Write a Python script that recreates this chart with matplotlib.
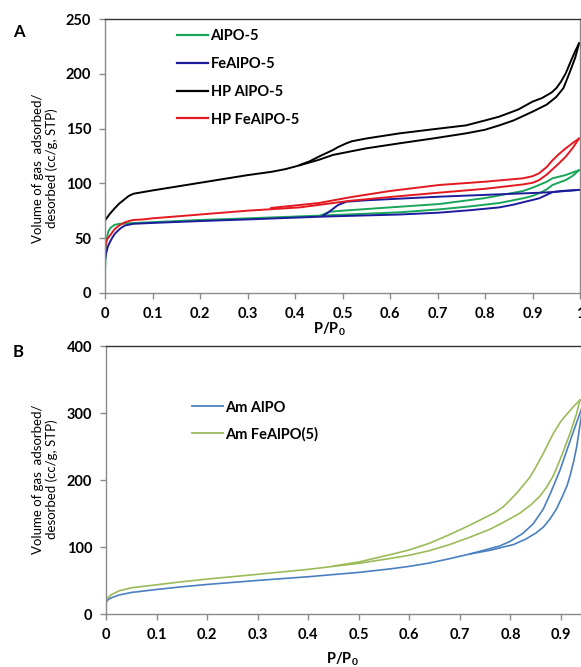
import matplotlib
matplotlib.use("Agg")
import matplotlib.pyplot as plt
from matplotlib.lines import Line2D

plt.rcParams['font.family'] = ['Lato', 'DejaVu Sans']
plt.rcParams['mathtext.fontset'] = 'custom'
plt.rcParams['mathtext.rm'] = 'Lato'
plt.rcParams['mathtext.bf'] = 'Lato:bold'

# ---------------- Panel A data (P/P0, volume cc/g STP) ----------------
alpo5_ads_x = [0, 0.002, 0.004, 0.007, 0.012, 0.02, 0.03, 0.05, 0.1, 0.2, 0.3, 0.41, 0.46, 0.62, 0.704,
               0.77, 0.83, 0.88, 0.9, 0.914, 0.93, 0.942, 0.97, 0.985, 0.998]
alpo5_ads_y = [20, 40, 50, 56, 59.5, 62, 63, 63.5, 64.5, 66.5, 68, 69.8, 70.6, 73.5, 76.2,
               79, 82, 86.3, 88.5, 90.9, 94.5, 98.5, 103, 107, 112]
alpo5_des_x = [0.998, 0.985, 0.97, 0.955, 0.942, 0.93, 0.914, 0.9, 0.88, 0.8, 0.704, 0.6, 0.5, 0.473, 0.455]
alpo5_des_y = [112, 110, 107.6, 106, 104.6, 101.5, 98.5, 96, 93, 86.5, 81.1, 78, 75, 74, 70.8]

fealpo5_ads_x = [0, 0.003, 0.006, 0.01, 0.015, 0.02, 0.025, 0.033, 0.042, 0.06, 0.1, 0.2, 0.3, 0.41,
                 0.459, 0.62, 0.704, 0.77, 0.83, 0.86, 0.88, 0.9, 0.914, 0.93, 0.942, 0.96, 0.998]
fealpo5_ads_y = [30, 37, 42, 46, 50, 53.5, 55.8, 59, 61.5, 63, 63.8, 65.5, 67, 68.8,
                 69.6, 71.5, 73.2, 75.5, 78, 80.5, 82.7, 84.8, 86.3, 89.5, 92, 93, 94]
fealpo5_des_x = [0.998, 0.942, 0.914, 0.704, 0.55, 0.508, 0.49, 0.475, 0.459]
fealpo5_des_y = [94, 92, 91.4, 87.8, 84.5, 83.2, 80, 75, 70.2]

hpalpo5_ads_x = [0, 0.005, 0.01, 0.02, 0.03, 0.04, 0.05, 0.06, 0.08, 0.1, 0.15, 0.2, 0.25, 0.3, 0.35,
                 0.38, 0.41, 0.45, 0.48, 0.55, 0.62, 0.69, 0.76, 0.8, 0.83, 0.86, 0.9, 0.93, 0.95,
                 0.965, 0.977, 0.99, 0.998]
hpalpo5_ads_y = [66, 69, 72, 77, 81.5, 85, 88.5, 90.5, 92, 93.5, 97, 100.5, 104, 107.5, 110.5,
                 113, 116.5, 121.5, 126, 132, 136.6, 141, 145.7, 149, 153, 157.5, 165.5, 172, 179,
                 187, 200, 215, 228]
hpalpo5_des_x = [0.998, 0.99, 0.98, 0.97, 0.96, 0.95, 0.94, 0.92, 0.9, 0.87, 0.83, 0.8, 0.76, 0.69,
                 0.62, 0.55, 0.52, 0.508, 0.49, 0.48, 0.45, 0.43, 0.41]
hpalpo5_des_y = [228, 221, 211, 200.6, 193, 187, 183, 178, 174.7, 167.5, 161, 157.5, 153, 149.4,
                 145.7, 141, 138.5, 136.6, 133, 130.5, 124.4, 120, 116.8]

hpfealpo5_ads_x = [0, 0.003, 0.01, 0.02, 0.03, 0.04, 0.05, 0.06, 0.08, 0.1, 0.2, 0.3, 0.41, 0.515, 0.6,
                   0.704, 0.8, 0.88, 0.9, 0.914, 0.93, 0.942, 0.955, 0.97, 0.985, 0.998]
hpfealpo5_ads_y = [40, 48, 52, 58, 61.5, 64, 65.5, 66.5, 67, 68, 71.5, 75, 78, 84, 87.5,
                   91.5, 95, 99, 100.5, 103, 108, 112.8, 118, 124.4, 132.5, 141]
hpfealpo5_des_x = [0.998, 0.985, 0.97, 0.955, 0.942, 0.93, 0.914, 0.9, 0.88, 0.8, 0.704, 0.6, 0.515,
                   0.45, 0.41, 0.35]
hpfealpo5_des_y = [141, 137, 132, 126.5, 121, 115, 109.2, 106.5, 104.6, 101.5, 98.5, 93, 87.2,
                   82, 80.2, 77.5]

labels_a = ['AlPO-5', 'FeAlPO-5', 'HP AlPO-5', 'HP FeAlPO-5']
colors_a = ['#19a65a', '#1c1c9c', '#000000', '#e3191f']

# ---------------- Panel B data ----------------
amalpo_ads_x = [0, 0.003, 0.01, 0.026, 0.05, 0.1, 0.15, 0.2, 0.3, 0.4, 0.5, 0.56, 0.6, 0.64, 0.68,
                0.72, 0.76, 0.806, 0.83, 0.85, 0.865, 0.878, 0.891, 0.904, 0.912, 0.918, 0.925,
                0.931, 0.937, 0.943, 0.95]
amalpo_ads_y = [17, 21, 24.5, 28.8, 32.5, 37, 41, 44.5, 50.5, 56, 62.5, 67.5, 71.5, 76.5, 83,
                90, 95.5, 104, 112, 121, 130, 142, 157, 178, 192, 207, 228,
                250, 280, 308, 330]
amalpo_des_x = [0.95, 0.94, 0.928, 0.914, 0.898, 0.88, 0.865, 0.845, 0.825, 0.8, 0.779, 0.75, 0.72]
amalpo_des_y = [330, 305, 280, 250, 215, 182, 157, 135, 121, 109, 102, 96, 90]

amfealpo_ads_x = [0, 0.003, 0.01, 0.026, 0.05, 0.1, 0.15, 0.2, 0.3, 0.4, 0.5, 0.56, 0.6, 0.64, 0.68,
                  0.72, 0.76, 0.786, 0.819, 0.84, 0.858, 0.872, 0.885, 0.895, 0.904, 0.918, 0.931, 0.9375]
amfealpo_ads_y = [18, 24, 29, 35, 39.5, 44, 48.5, 52.5, 59.6, 67, 76, 83, 88, 95, 104,
                  115, 127, 137, 151, 163, 176, 190, 207, 225, 242, 270, 300, 319.5]
amfealpo_des_x = [0.9375, 0.925, 0.911, 0.9, 0.885, 0.875, 0.865, 0.852, 0.839, 0.825, 0.812, 0.8,
                  0.786, 0.77, 0.753, 0.72, 0.68, 0.64, 0.6, 0.56, 0.5, 0.45]
amfealpo_des_y = [319.5, 310, 298, 288, 270, 255, 240, 222, 205, 192, 180.4, 171,
                  160.4, 152, 145.5, 133, 119, 106, 96, 88.5, 78, 72]

labels_b = ['Am AlPO', 'Am FeAlPO(5)']
colors_b = ['#4a80c0', '#9bbb59']

xticks = [0, 0.1, 0.2, 0.3, 0.4, 0.5, 0.6, 0.7, 0.8, 0.9, 1.0]
xtick_labels = ['0', '0.1', '0.2', '0.3', '0.4', '0.5', '0.6', '0.7', '0.8', '0.9', '1']
yticks_a = [0, 50, 100, 150, 200, 250]
yticks_b = [0, 100, 200, 300, 400]

W, H = 581, 667
fig = plt.figure(figsize=(W / 100, H / 100), dpi=100)

def px_box(l, t, r, b):
    return [l / W, 1 - b / H, (r - l) / W, (b - t) / H]

ax1 = fig.add_axes(px_box(105, 19.3, 580, 292.7))
ax2 = fig.add_axes(px_box(106, 346, 611.6, 614.3))

FS = 10.5
tick_font = dict(family=['Lato', 'DejaVu Sans'], weight='bold', size=FS)

def style(ax, yt, ylim):
    ax.set_xlim(0, 1)
    ax.set_ylim(*ylim)
    ax.set_xticks(xticks)
    ax.set_xticklabels(xtick_labels, **tick_font)
    ax.set_yticks(yt)
    ax.set_yticklabels([str(v) for v in yt], **tick_font)
    for s in ['left', 'bottom', 'right']:
        ax.spines[s].set_color('#8a8a8a')
        ax.spines[s].set_linewidth(1.0)
    ax.spines['top'].set_color('#333333')
    ax.spines['top'].set_linewidth(1.0)
    ax.tick_params(axis='both', direction='out', length=4, width=1.0, color='#8a8a8a', pad=6)
    ax.set_ylabel('Volume of gas  adsorbed/\ndesorbed (cc/g, STP)', fontsize=9.5,
                  family=['Lato', 'DejaVu Sans'], linespacing=1.15)
    ax.set_xlabel(r'$\mathbf{P/P_0}$', fontsize=FS)

lw_a = 1.4
series_a = [
    (alpo5_ads_x, alpo5_ads_y, alpo5_des_x, alpo5_des_y),
    (fealpo5_ads_x, fealpo5_ads_y, fealpo5_des_x, fealpo5_des_y),
    (hpalpo5_ads_x, hpalpo5_ads_y, hpalpo5_des_x, hpalpo5_des_y),
    (hpfealpo5_ads_x, hpfealpo5_ads_y, hpfealpo5_des_x, hpfealpo5_des_y),
]
for (ax_, ay_, dx_, dy_), c in zip(series_a, colors_a):
    ax1.plot(ax_, ay_, color=c, lw=lw_a, solid_joinstyle='round')
    ax1.plot(dx_, dy_, color=c, lw=lw_a, solid_joinstyle='round')

style(ax1, yticks_a, (0, 250))
handles_a = [Line2D([], [], color=c, lw=1.6) for c in colors_a]
ax1.legend(handles_a, labels_a, loc='upper left', bbox_to_anchor=((177 - 105) / 475, (292.7 - 29) / 273.4),
           frameon=False, handlelength=2.1, handletextpad=0.2, labelspacing=0.95,
           borderaxespad=0, borderpad=0,
           prop=dict(family=['Lato', 'DejaVu Sans'], weight='bold', size=FS))

lw_b = 1.2
series_b = [
    (amalpo_ads_x, amalpo_ads_y, amalpo_des_x, amalpo_des_y),
    (amfealpo_ads_x, amfealpo_ads_y, amfealpo_des_x, amfealpo_des_y),
]
for (ax_, ay_, dx_, dy_), c in zip(series_b, colors_b):
    ax2.plot(ax_, ay_, color=c, lw=lw_b, solid_joinstyle='round')
    ax2.plot(dx_, dy_, color=c, lw=lw_b, solid_joinstyle='round')

style(ax2, yticks_b, (0, 400))
ax2.spines['right'].set_visible(False)
handles_b = [Line2D([], [], color=c, lw=1.3) for c in colors_b]
ax2.legend(handles_b, labels_b, loc='upper left', bbox_to_anchor=((192 - 106) / 505.6, (614.3 - 400.5) / 268.3),
           frameon=False, handlelength=2.1, handletextpad=0.2, labelspacing=0.85,
           borderaxespad=0, borderpad=0,
           prop=dict(family=['Lato', 'DejaVu Sans'], weight='bold', size=FS))

# label positions (in axes coords)
ax1.yaxis.set_label_coords(-60 / 475, 0.456)
ax2.yaxis.set_label_coords(-61 / 505.6, 0.504)
ax1.xaxis.set_label_coords((329 - 105) / 475, -(329 - 292.7) / 273.4)
ax2.xaxis.set_label_coords((342 - 106) / 505.6, -(659 - 614.3) / 268.3)
for ax in (ax1, ax2):
    ax.xaxis.label.set_va('center')
    ax.yaxis.label.set_va('center')
    ax.yaxis.label.set_ha('center')

fig.text(19 / W, 1 - 32 / H, 'A', fontsize=12, weight='bold', ha='center', va='center',
         family=['Lato', 'DejaVu Sans'])
fig.text(18.5 / W, 1 - 352 / H, 'B', fontsize=12, weight='bold', ha='center', va='center',
         family=['Lato', 'DejaVu Sans'])

fig.savefig('out.png', dpi=100)
